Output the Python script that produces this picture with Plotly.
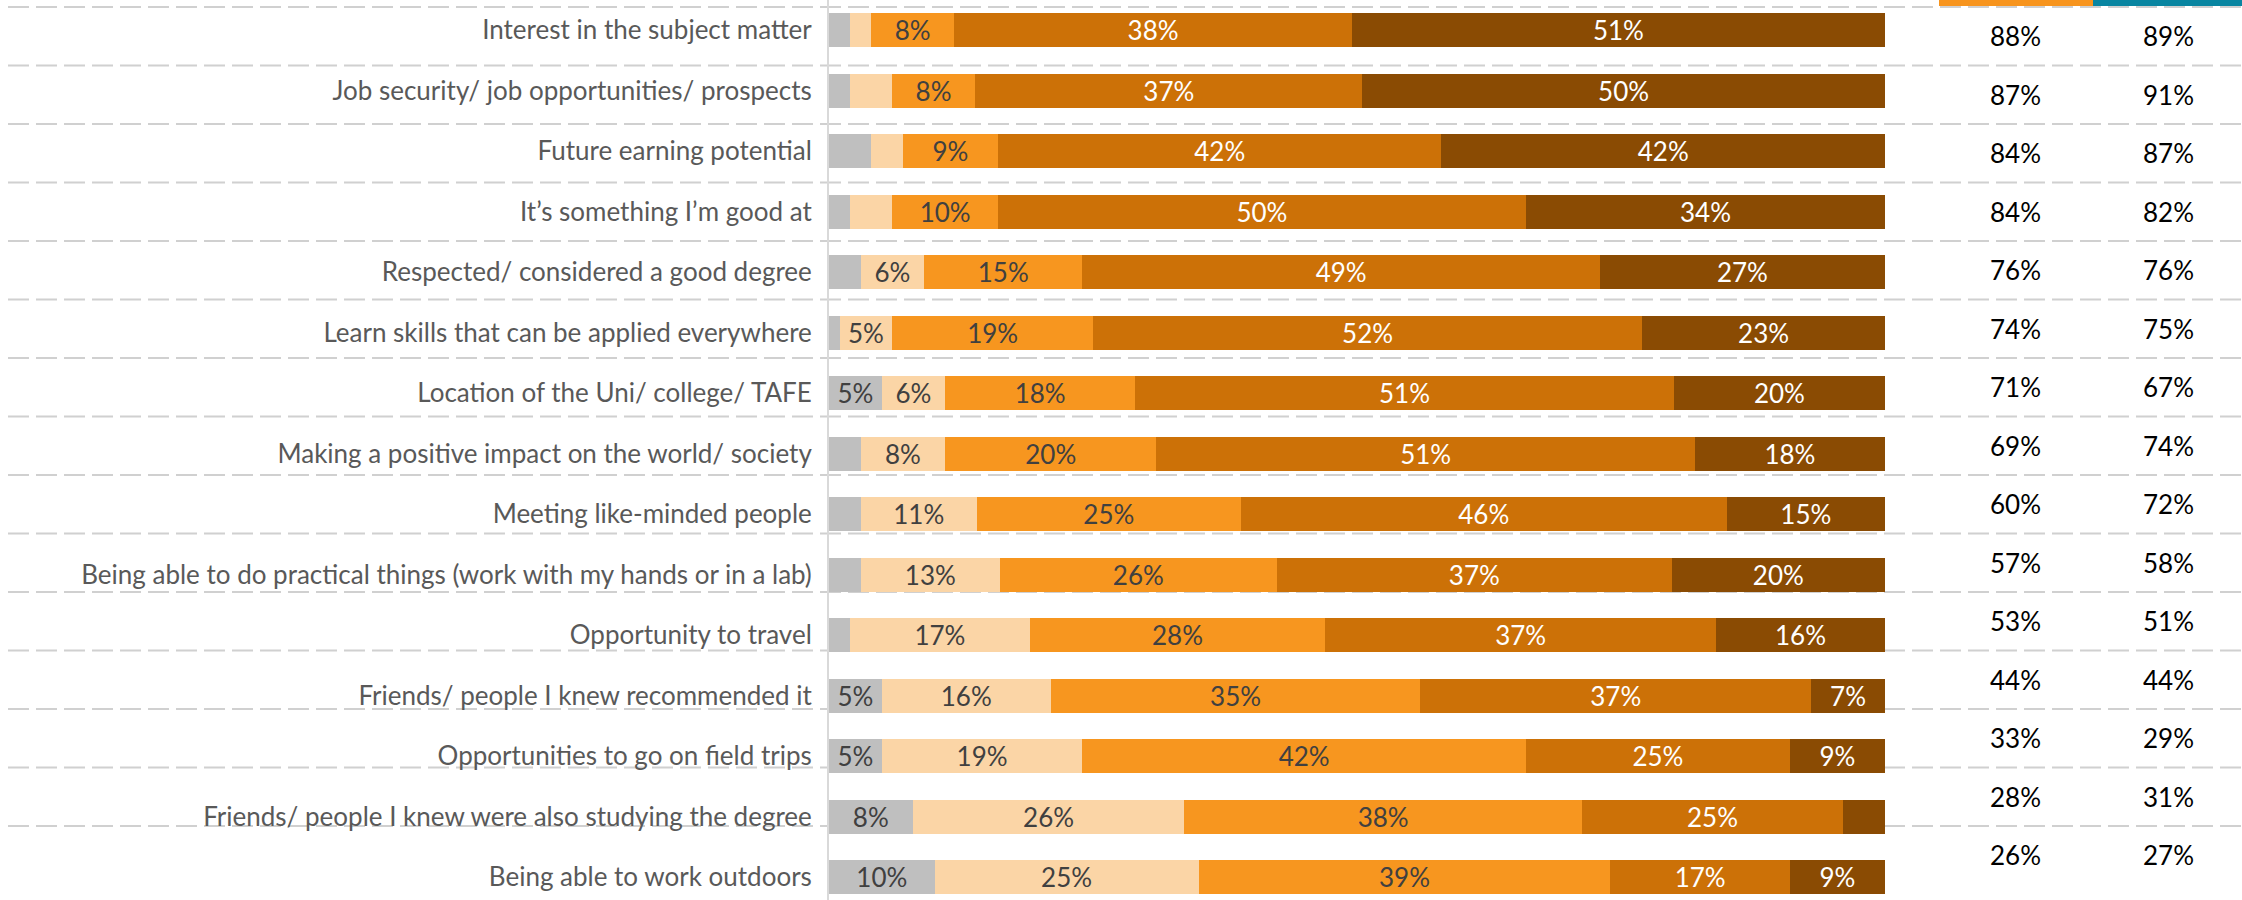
import plotly.graph_objects as go

# ---- data -------------------------------------------------------------
categories = [
    "Interest in the subject matter",
    "Job security/ job opportunities/ prospects",
    "Future earning potential",
    "It’s something I’m good at",
    "Respected/ considered a good degree",
    "Learn skills that can be applied everywhere",
    "Location of the Uni/ college/ TAFE",
    "Making a positive impact on the world/ society",
    "Meeting like-minded people",
    "Being able to do practical things (work with my hands or in a lab)",
    "Opportunity to travel",
    "Friends/ people I knew recommended it",
    "Opportunities to go on field trips",
    "Friends/ people I knew were also studying the degree",
    "Being able to work outdoors",
]

unsure = [2, 2, 4, 2, 3, 1, 5, 3, 3, 3, 2, 5, 5, 8, 10]
not_important = [2, 4, 3, 4, 6, 5, 6, 8, 11, 13, 17, 16, 19, 26, 25]
somewhat = [8, 8, 9, 10, 15, 19, 18, 20, 25, 26, 28, 35, 42, 38, 39]
important = [38, 37, 42, 50, 49, 52, 51, 51, 46, 37, 37, 37, 25, 25, 17]
very_important = [51, 50, 42, 34, 27, 23, 20, 18, 15, 20, 16, 7, 9, 4, 9]

# summary columns on the right
col_a = [88, 87, 84, 84, 76, 74, 71, 69, 60, 57, 53, 44, 33, 28, 26]
col_b = [89, 91, 87, 82, 76, 75, 67, 74, 72, 58, 51, 44, 29, 31, 27]

footnote = "Results under 5% are hidden"

# ---- styling ----------------------------------------------------------
W, H = 2242, 900
PLOT_L, PLOT_R = 829, 1885          # pixel extent of the bar area
ROW_TOP, ROW_STEP = 30, 60.5        # first bar centre and bar pitch (px)
GRID_TOP, GRID_STEP = 7, 58.5       # table rule lines (px)
FONT = "Lato"

series = [
    (unsure, "#BFBFBF", "#404040"),
    (not_important, "#FBD5A6", "#404040"),
    (somewhat, "#F7961F", "#404040"),
    (important, "#CC7107", "#FFFFFF"),
    (very_important, "#8A4B03", "#FFFFFF"),
]


def px_x(p):
    return (p - PLOT_L) / (PLOT_R - PLOT_L)


def px_y(p):
    return 1 - p / H


fig = go.Figure()
for vals, color, tcolor in series:
    fig.add_trace(go.Bar(
        y=categories,
        x=vals,
        orientation="h",
        marker=dict(color=color, line=dict(width=0)),
        text=[f"{v}%" if v >= 5 else "" for v in vals],
        textposition="inside",
        insidetextanchor="middle",
        textangle=0,
        textfont=dict(family=FONT, size=26, color=tcolor),
        width=0.562,
        hoverinfo="skip",
    ))

shapes = []
# dashed table rules running across the whole width
for k in range(15):
    y = px_y(GRID_TOP + GRID_STEP * k)
    shapes.append(dict(
        type="line", xref="paper", yref="paper",
        x0=px_x(8), x1=px_x(W + 5), y0=y, y1=y,
        line=dict(color="#D0D0D0", width=2, dash="21px,7px"),
        layer="below",
    ))
# column header strips
shapes.append(dict(type="rect", xref="paper", yref="paper",
                   x0=px_x(1939), x1=px_x(2093), y0=px_y(0), y1=px_y(6),
                   fillcolor="#F7941D", line=dict(width=0)))
shapes.append(dict(type="rect", xref="paper", yref="paper",
                   x0=px_x(2093), x1=px_x(W + 5), y0=px_y(0), y1=px_y(6),
                   fillcolor="#0885A1", line=dict(width=0)))

annotations = []
for k, (a, b) in enumerate(zip(col_a, col_b)):
    yc = px_y(GRID_TOP + GRID_STEP * (k + 0.5))
    for xc, v in ((2015, a), (2168, b)):
        annotations.append(dict(
            xref="paper", yref="paper", x=px_x(xc), y=yc,
            text=f"{v}%", showarrow=False, xanchor="center", yanchor="middle",
            font=dict(family=FONT, size=26, color="#000000"),
        ))
annotations.append(dict(
    xref="paper", yref="paper", x=px_x(1555), y=px_y(893),
    text=f"<i>{footnote}</i>", showarrow=False, xanchor="left", yanchor="top",
    font=dict(family=FONT, size=26, color="#A6A6A6"),
))

y_top = -ROW_TOP / ROW_STEP
y_bot = y_top + H / ROW_STEP

fig.update_layout(
    width=W, height=H, autosize=False,
    margin=dict(l=PLOT_L, r=W - PLOT_R, t=0, b=0, pad=0),
    barmode="stack", barnorm="percent",
    paper_bgcolor="white", plot_bgcolor="rgba(0,0,0,0)",
    showlegend=False,
    uniformtext=dict(minsize=26, mode="show"),
    shapes=shapes, annotations=annotations,
    xaxis=dict(range=[0, 100], visible=False, fixedrange=True),
    yaxis=dict(
        type="category", categoryorder="array", categoryarray=categories,
        range=[y_bot, y_top], showgrid=False, zeroline=False,
        showline=True, linecolor="#D9D9D9", linewidth=2,
        ticks="", ticklabelstandoff=10,
        tickfont=dict(family=FONT, size=26, color="#595959"),
        fixedrange=True,
    ),
)

fig.write_html("out.html")
